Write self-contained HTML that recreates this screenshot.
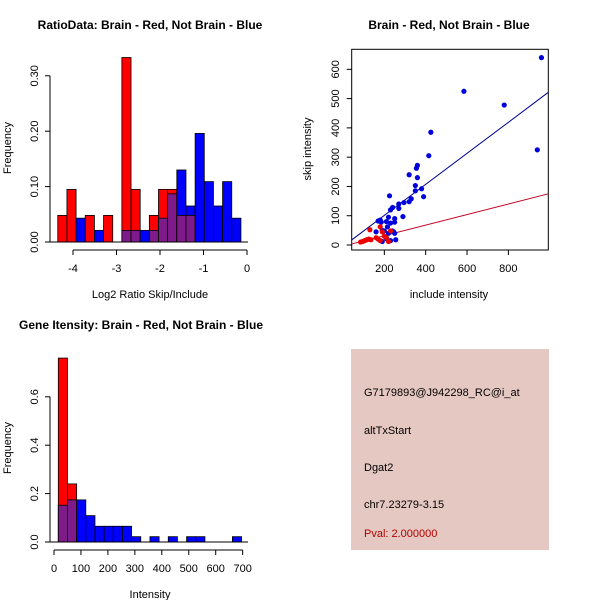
<!DOCTYPE html>
<html><head><meta charset="utf-8"><style>
html,body{margin:0;padding:0;background:#fff;}
svg{display:block;font-family:"Liberation Sans",sans-serif;}
</style></head><body>
<svg id="svg" width="600" height="600" viewBox="0 0 600 600">
<rect x="351" y="349" width="198" height="201" fill="#e6c8c2"/>
<text x="364" y="396" font-size="11" fill="#000">G7179893@J942298_RC@i_at</text>
<text x="364" y="434" font-size="11" fill="#000">altTxStart</text>
<text x="364" y="471" font-size="11" fill="#000">Dgat2</text>
<text x="364" y="508" font-size="11" fill="#000">chr7.23279-3.15</text>
<text x="364" y="537" font-size="11" fill="#b00000">Pval: 2.000000</text>
</svg>
<script>
// ---- Chart 1 data ----
const ratioBinStart = -4.35;
const ratioBinWidth = 0.2105;
const ratioRed = [0.048,0.095,0,0.048,0,0.048,0,0.333,0.095,0,0.048,0.095,0.095,0.048,0.048,0,0,0,0,0];
const ratioBlue = [0,0,0.043,0,0.021,0,0,0.021,0.021,0.021,0.021,0.043,0.087,0.130,0.065,0.196,0.109,0.065,0.109,0.043];
const ratioXTicks = [-4,-3,-2,-1,0];
const ratioYTicks = ["0.00","0.10","0.20","0.30"];
// ---- Chart 2 data ----
const blueInc = [960,585,780,940,425,415,320,360,355,360,350,380,390,350,330,320,295,270,270,240,230,225,290,250,250,220,210,230,240,200,180,170,185,160,190,220,250,255,190,210,230,245,215];
const blueSkip = [640,525,478,325,385,305,240,272,262,230,203,192,165,185,158,148,145,140,125,128,120,168,97,90,78,95,80,75,48,48,85,82,78,45,50,40,40,18,12,22,15,45,62];
const redInc = [85,95,105,115,125,135,130,160,170,180,190,200,210,220,180,230];
const redSkip = [10,12,15,18,20,18,52,25,20,62,45,30,25,12,15,48];
const blueFit = [-5,0.53];
const redFit = [-4,0.18];
const scXTicks = [200,400,600,800];
const scYTicks = [0,100,200,300,400,500,600];
// ---- Chart 3 data ----
const intBinStart = 16;
const intBinWidth = 34;
const intRed = [0.76,0.24,0,0,0,0,0,0,0,0,0,0,0,0,0,0,0,0,0,0];
const intBlue = [0.152,0.174,0.174,0.109,0.065,0.065,0.065,0.065,0.022,0,0.022,0,0.022,0,0.022,0.022,0,0,0,0.022];
const intXTicks = [0,100,200,300,400,500,600,700];
const intYTicks = ["0.0","0.2","0.4","0.6"];

const svg = document.getElementById('svg');
const NS = 'http://www.w3.org/2000/svg';
function el(tag, attrs, text){
  const e = document.createElementNS(NS, tag);
  for (const k in attrs) e.setAttribute(k, attrs[k]);
  if (text !== undefined) e.textContent = text;
  svg.appendChild(e);
  return e;
}
const RED='#ff0000', BLUE='#0000ff', PURPLE='#7f1a8a';

function hist(binStart, binWidth, red, blue, X, Y, prefix){
  for (let i=0;i<red.length;i++){
    const x0 = X(binStart+i*binWidth), x1 = X(binStart+(i+1)*binWidth);
    const r = red[i], b = blue[i];
    if (b>0){
      const e = el('rect',{x:x0,y:Y(b),width:x1-x0,height:Y(0)-Y(b),fill:BLUE,stroke:'#000','stroke-width':0.8});
      
      
    }
    if (r>0){
      const e = el('rect',{x:x0,y:Y(r),width:x1-x0,height:Y(0)-Y(r),fill:RED,stroke:'#000','stroke-width':0.8});
      
      
    }
    if (r>0 && b>0){
      const m = Math.min(r,b);
      const e = el('rect',{x:x0,y:Y(m),width:x1-x0,height:Y(0)-Y(m),fill:PURPLE,stroke:'#000','stroke-width':0.8});
      
      
    }
  }
}

// ---- Chart 1 ----
(function(){
  const X = v => 247 + v*43.5;
  const Y = v => 242 - v*554;
  hist(ratioBinStart, ratioBinWidth, ratioRed, ratioBlue, X, Y, 'ratio');
  let e = el('line',{x1:X(ratioXTicks[0]),x2:X(ratioXTicks[ratioXTicks.length-1]),y1:250,y2:250,stroke:'#000'});
   
  ratioXTicks.forEach(t=>{
    el('line',{x1:X(t),x2:X(t),y1:250,y2:255,stroke:'#000'});
    const tx = el('text',{x:X(t),y:272,'font-size':11,'text-anchor':'middle'}, String(t));
     
  });
  e = el('line',{x1:50,x2:50,y1:Y(0),y2:Y(0.3),stroke:'#000'});
   
  ratioYTicks.forEach(t=>{
    const v = parseFloat(t);
    el('line',{x1:45,x2:50,y1:Y(v),y2:Y(v),stroke:'#000'});
    const tx = el('text',{x:38,y:Y(v),'font-size':11,'text-anchor':'middle',transform:`rotate(-90 38 ${Y(v)})`}, t);
     
  });
  e = el('line',{x1:50,x2:248,y1:242,y2:242,stroke:'#000'});
  e = el('text',{x:150,y:298,'font-size':11,'text-anchor':'middle'},'Log2 Ratio Skip/Include');
   
  e = el('text',{x:11,y:148,'font-size':11,'text-anchor':'middle',transform:'rotate(-90 11 148)'},'Frequency');
   
  e = el('text',{x:150,y:29,'font-size':12,'font-weight':'bold','text-anchor':'middle'},'RatioData: Brain - Red, Not Brain - Blue');
   
})();

// ---- Chart 2 ----
(function(){
  const X = v => 343 + v*0.2067;
  const Y = v => 245 - v*0.2928;
  const L=351.7,R=548.3,T=49.3,B=250;
  let e = el('rect',{x:L,y:T,width:R-L,height:B-T,fill:'none',stroke:'#000'});
   
  const xa=(R-343)/0.2067, xb=(L-343)/0.2067;
  [[blueFit,'#00008b','blue-fit-line'],[redFit,'#c00020','red-fit-line']].forEach(([f,c,n])=>{
    const ln = el('line',{x1:L,y1:Y(f[0]+f[1]*xb),x2:R,y2:Y(f[0]+f[1]*xa),stroke:c,'stroke-width':1});
    
    
  });
  for (let i=0;i<blueInc.length;i++){
    const c = el('circle',{cx:X(blueInc[i]),cy:Y(blueSkip[i]),r:2.6,fill:'#0000dd'});
    
    
  }
  for (let i=0;i<redInc.length;i++){
    const c = el('circle',{cx:X(redInc[i]),cy:Y(redSkip[i]),r:2.6,fill:'#ee0000'});
    
    
  }
  scXTicks.forEach(t=>{
    el('line',{x1:X(t),x2:X(t),y1:B,y2:B+5,stroke:'#000'});
    const tx = el('text',{x:X(t),y:272,'font-size':11,'text-anchor':'middle'}, String(t));
     
  });
  scYTicks.forEach(t=>{
    el('line',{x1:L-5,x2:L,y1:Y(t),y2:Y(t),stroke:'#000'});
    const tx = el('text',{x:339,y:Y(t),'font-size':11,'text-anchor':'middle',transform:`rotate(-90 339 ${Y(t)})`}, String(t));
     
  });
  e = el('text',{x:449,y:298,'font-size':11,'text-anchor':'middle'},'include intensity');
   
  e = el('text',{x:311,y:149,'font-size':11,'text-anchor':'middle',transform:'rotate(-90 311 149)'},'skip intensity');
   
  e = el('text',{x:449,y:29,'font-size':12,'font-weight':'bold','text-anchor':'middle'},'Brain - Red, Not Brain - Blue');
   
})();

// ---- Chart 3 ----
(function(){
  const X = v => 54 + v*0.2695;
  const Y = v => 542 - v*242;
  hist(intBinStart, intBinWidth, intRed, intBlue, X, Y, 'intensity');
  el('line',{x1:50,x2:248,y1:542,y2:542,stroke:'#000'});
  let e = el('line',{x1:X(0),x2:X(700),y1:550,y2:550,stroke:'#000'});
   
  intXTicks.forEach(t=>{
    el('line',{x1:X(t),x2:X(t),y1:550,y2:555,stroke:'#000'});
    const tx = el('text',{x:X(t),y:572,'font-size':11,'text-anchor':'middle'}, String(t));
     
  });
  e = el('line',{x1:50,x2:50,y1:Y(0),y2:Y(0.6),stroke:'#000'});
   
  intYTicks.forEach(t=>{
    const v=parseFloat(t);
    el('line',{x1:45,x2:50,y1:Y(v),y2:Y(v),stroke:'#000'});
    const tx = el('text',{x:38,y:Y(v),'font-size':11,'text-anchor':'middle',transform:`rotate(-90 38 ${Y(v)})`}, t);
     
  });
  e = el('text',{x:150,y:598,'font-size':11,'text-anchor':'middle'},'Intensity');
   
  e = el('text',{x:11,y:448,'font-size':11,'text-anchor':'middle',transform:'rotate(-90 11 448)'},'Frequency');
   
  e = el('text',{x:141,y:329,'font-size':12,'font-weight':'bold','text-anchor':'middle'},'Gene Itensity: Brain - Red, Not Brain - Blue');
   
})();
</script>
</body></html>
